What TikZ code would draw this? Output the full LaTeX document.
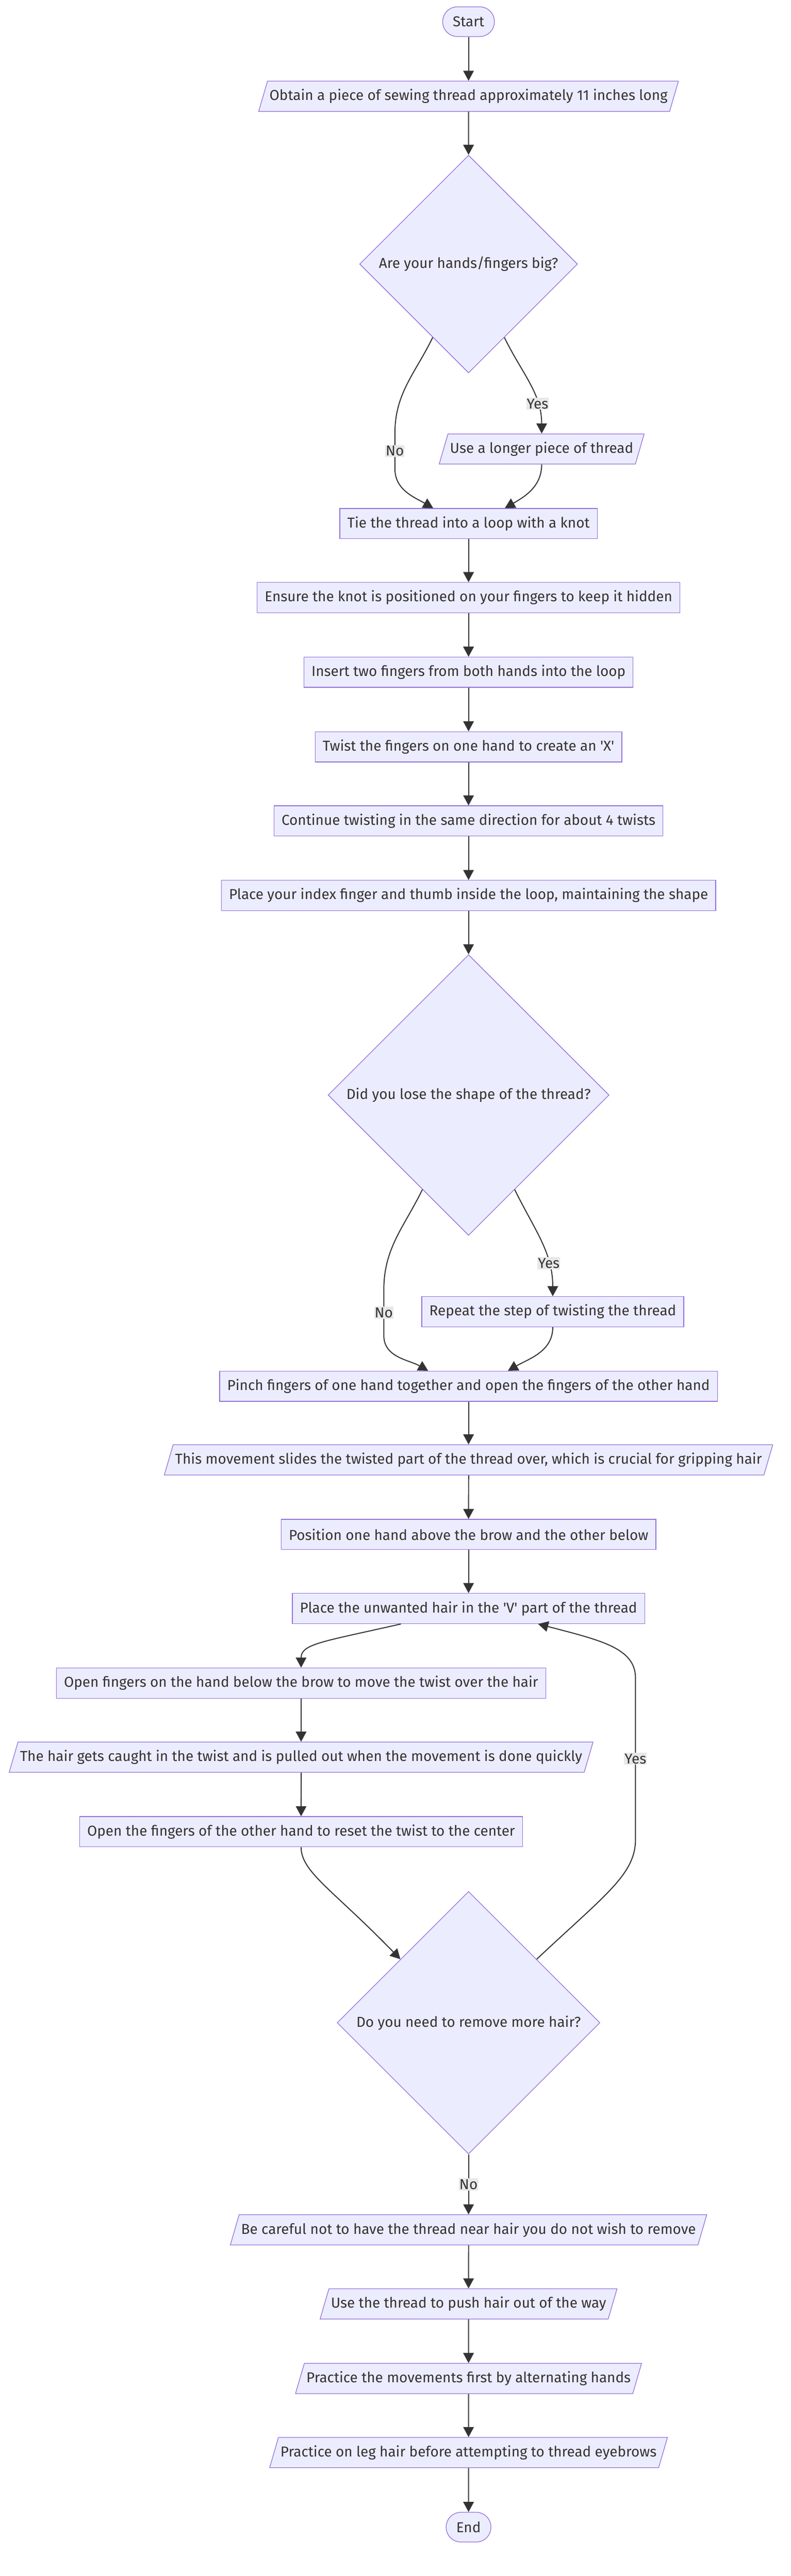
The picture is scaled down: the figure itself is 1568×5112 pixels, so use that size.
\documentclass[tikz,border=0pt]{standalone}
\usepackage{fontspec}
\setmainfont{Fira Sans}
\usepackage{tikz}
\usetikzlibrary{positioning,calc,shapes.geometric,arrows.meta}
\definecolor{boxfill}{HTML}{ECECFF}
\definecolor{boxline}{HTML}{9370DB}
\definecolor{ink}{HTML}{333333}
\definecolor{lblfill}{HTML}{E8E8E8}
\tikzset{
every node/.style={font=\fontsize{28.5}{34}\selectfont, text=ink},
process/.style={rectangle,draw=boxline,fill=boxfill,line width=1.3pt,minimum height=60pt,inner xsep=15pt},
io/.style={trapezium,trapezium left angle=63.43,trapezium right angle=116.57,trapezium stretches=true,draw=boxline,fill=boxfill,line width=1.3pt,minimum height=60pt,inner xsep=4pt},
decision/.style={diamond,aspect=1,draw=boxline,fill=boxfill,line width=1.3pt,inner sep=0pt},
terminal/.style={rectangle,rounded corners=29pt,draw=boxline,fill=boxfill,line width=1.3pt,minimum height=59pt,inner xsep=20pt},
flow/.style={line width=2pt,draw=ink,-{Triangle[length=20pt,width=21pt]}},
lbl/.style={fill=lblfill,inner xsep=1pt,inner ysep=2pt},
}
\newcommand{\sq}{\textquotesingle}

\begin{document}
\begin{tikzpicture}[x=1pt,y=-1pt]
\useasboundingbox[fill=white] (0,0) rectangle (1568,5112);

\node[terminal] (start) at (929,43) {Start};
\node[io] (obtain) at (929,191) {Obtain a piece of sewing thread approximately 11 inches long};
\node[decision,minimum size=432pt] (big) at (929,524) {Are your hands/fingers big?};
\node[io] (longer) at (1074,891) {Use a longer piece of thread};
\node[process] (tie) at (929,1039) {Tie the thread into a loop with a knot};
\node[process] (ensure) at (929,1186) {Ensure the knot is positioned on your fingers to keep it hidden};
\node[process] (insert) at (929,1334) {Insert two fingers from both hands into the loop};
\node[process] (twist) at (929,1482) {Twist the fingers on one hand to create an \sq X\sq};
\node[process] (cont) at (929,1629) {Continue twisting in the same direction for about 4 twists};
\node[process] (index) at (929,1777) {Place your index finger and thumb inside the loop, maintaining the shape};
\node[decision,minimum size=557pt] (lose) at (929,2173) {Did you lose the shape of the thread?};
\node[process] (again) at (1096,2603) {Repeat the step of twisting the thread};
\node[process] (pinch) at (929,2751) {Pinch fingers of one hand together and open the fingers of the other hand};
\node[io] (slides) at (929,2897) {This movement slides the twisted part of the thread over, which is crucial for gripping hair};
\node[process] (brow) at (929,3045) {Position one hand above the brow and the other below};
\node[process] (vpart) at (929,3192) {Place the unwanted hair in the \sq V\sq{} part of the thread};
\node[process] (openbelow) at (597,3340) {Open fingers on the hand below the brow to move the twist over the hair};
\node[io] (caught) at (597,3487) {The hair gets caught in the twist and is pulled out when the movement is done quickly};
\node[process] (openother) at (597,3635) {Open the fingers of the other hand to reset the twist to the center};
\node[decision,minimum size=521pt] (more) at (929,4014) {Do you need to remove more hair?};
\node[io] (careful) at (929,4425) {Be careful not to have the thread near hair you do not wish to remove};
\node[io] (push) at (929,4572) {Use the thread to push hair out of the way};
\node[io] (alternate) at (929,4720) {Practice the movements first by alternating hands};
\node[io] (leg) at (929,4867) {Practice on leg hair before attempting to thread eyebrows};
\node[terminal] (stop) at (929,5015) {End};

\draw[flow] (start) -- (obtain);
\draw[flow] (obtain) -- (big);
\draw[flow] (big.-64) to[out=-64,in=90] node[lbl,pos=0.72] {Yes} (longer.north);
\draw[flow] (big.-116) to[out=-116,in=90] (783,860) -- node[lbl] {No} (783,930) to[out=-90,in=150] ([xshift=-70pt]tie.north);
\draw[flow] (longer.south) to[out=-90,in=30] ([xshift=72pt]tie.north);
\draw[flow] (tie) -- (ensure);
\draw[flow] (ensure) -- (insert);
\draw[flow] (insert) -- (twist);
\draw[flow] (twist) -- (cont);
\draw[flow] (cont) -- (index);
\draw[flow] (index) -- (lose);
\draw[flow] (lose.-64) to[out=-64,in=90] node[lbl,pos=0.72] {Yes} (again.north);
\draw[flow] (lose.-116) to[out=-116,in=90] (761,2560) -- node[lbl] {No} (761,2650) to[out=-90,in=150] ([xshift=-80pt]pinch.north);
\draw[flow] (again.south) to[out=-90,in=30] ([xshift=78pt]pinch.north);
\draw[flow] (pinch) -- (slides);
\draw[flow] (slides) -- (brow);
\draw[flow] (brow) -- (vpart);
\draw[flow] ([xshift=-134pt]vpart.south) .. controls (640,3258) and (597,3262) .. (openbelow.north);
\draw[flow] (openbelow) -- (caught);
\draw[flow] (caught) -- (openother);
\draw[flow] (openother.south) .. controls (597,3715) and (660,3750) .. (more.137);
\draw[flow] (more.43) .. controls (1200,3760) and (1260,3720) .. (1260,3650) -- node[lbl] {Yes} (1260,3330) .. controls (1260,3270) and (1190,3255) .. ([xshift=138pt]vpart.south);
\draw[flow] (more) -- node[lbl] {No} (careful);
\draw[flow] (careful) -- (push);
\draw[flow] (push) -- (alternate);
\draw[flow] (alternate) -- (leg);
\draw[flow] (leg) -- (stop);
\end{tikzpicture}
\end{document}
